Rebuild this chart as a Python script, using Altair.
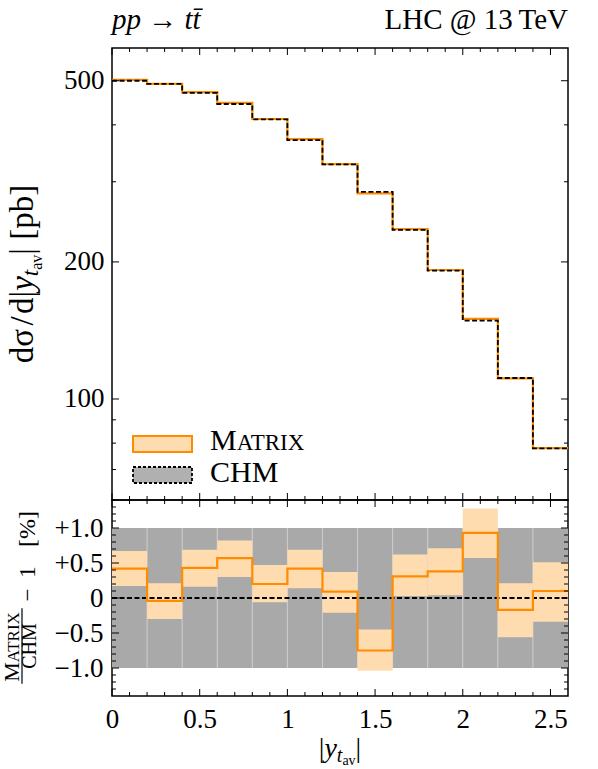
import altair as alt
import pandas as pd

# ---- data -------------------------------------------------------------
edges = [0.0, 0.2, 0.4, 0.6, 0.8, 1.0, 1.2, 1.4, 1.6, 1.8, 2.0, 2.2, 2.4, 2.6]

# dsigma/d|y_tav| in pb, one value per bin
matrix_xs = [502, 492, 472, 447, 412, 372, 328, 283, 236, 192, 150, 111, 78]
chm_xs = [499.9, 492.2, 470.0, 444.5, 411.2, 370.4, 327.7, 285.1, 235.3, 191.3, 148.6, 111.2, 77.9]

# MATRIX/CHM - 1 in percent, with MATRIX uncertainty band
ratio_pct = [0.42, -0.04, 0.43, 0.57, 0.20, 0.42, 0.09, -0.75, 0.31, 0.38, 0.93, -0.17, 0.10]
ratio_hi = [0.67, 0.21, 0.69, 0.82, 0.47, 0.69, 0.37, -0.45, 0.62, 0.71, 1.28, 0.21, 0.51]
ratio_lo = [0.17, -0.30, 0.16, 0.30, -0.06, 0.14, -0.21, -1.04, 0.03, 0.04, 0.57, -0.56, -0.34]

# CHM uncertainty band in percent
chm_hi = [1.0, 1.0, 1.0, 1.0, 1.0, 1.0, 1.0, 1.0, 1.0, 1.0, 1.0, 1.0, 1.0]
chm_lo = [-1.0, -1.0, -1.0, -1.0, -1.0, -1.0, -1.0, -1.0, -1.0, -1.0, -1.0, -1.0, -1.0]

# axis ticks
x_major = [0.0, 0.5, 1.0, 1.5, 2.0, 2.5]
x_minor = [0.1, 0.2, 0.3, 0.4, 0.6, 0.7, 0.8, 0.9, 1.1, 1.2, 1.3, 1.4,
           1.6, 1.7, 1.8, 1.9, 2.1, 2.2, 2.3, 2.4]
top_major = [100, 200, 500]
top_minor = [60, 70, 80, 90, 300, 400]
rat_major = [-1.0, -0.5, 0.0, 0.5, 1.0]
rat_minor = [-1.3, -1.2, -1.1, -0.9, -0.8, -0.7, -0.6, -0.4, -0.3, -0.2, -0.1,
             0.1, 0.2, 0.3, 0.4, 0.6, 0.7, 0.8, 0.9, 1.1, 1.2, 1.3]

# ---- style ------------------------------------------------------------
FONT = "Liberation Serif"
ORANGE = "#ff8c00"
PEACH = "#ffdcb0"
GREY = "#a9a9a9"
W, H_TOP, H_RAT = 456, 452, 196
MAJ, MIN = 7, 4
DASH = [5, 2.5]

steps = pd.DataFrame({
    "x": edges,
    "matrix": matrix_xs + [matrix_xs[-1]],
    "chm": chm_xs + [chm_xs[-1]],
    "ratio": ratio_pct + [ratio_pct[-1]],
})
bins = pd.DataFrame({
    "lo": edges[:-1], "hi": edges[1:],
    "rlo": ratio_lo, "rhi": ratio_hi,
    "clo": chm_lo, "chi": chm_hi,
})
ONE = pd.DataFrame({"k": [0]})

x_scale = alt.Scale(domain=[0, 2.6], nice=False, zero=False)
y_top_scale = alt.Scale(type="log", domain=[60, 590], nice=False)
y_rat_scale = alt.Scale(domain=[-1.4, 1.4], nice=False, zero=False)

lab = dict(ticks=False, tickSize=0, domain=False, grid=False, labelFont=FONT,
           labelFontSize=27, labelColor="black", title=None, labelOverlap=False)
y_top_axis = alt.Axis(values=top_major, format="d", labelPadding=8, **lab)
y_rat_axis = alt.Axis(
    values=rat_major, labelPadding=9,
    labelExpr="datum.value > 0.01 ? '+' + format(datum.value, '.1f') : "
              "(datum.value < -0.01 ? '\u2212' + format(-datum.value, '.1f') : '0')",
    **lab)
x_rat_axis = alt.Axis(values=x_major, format="~g", labelPadding=10, labelFlush=False, **lab)

# character advance widths (em) used to lay out multi-part labels
WIDTHS = {
    "normal": {" ": 0.25, "d": 0.5, "\u03c3": 0.55, "/": 0.278, "|": 0.2, "[": 0.333,
               "]": 0.333, "p": 0.5, "b": 0.5, "a": 0.444, "v": 0.5, "M": 0.889,
               "A": 0.722, "T": 0.611, "R": 0.667, "I": 0.333, "X": 0.722,
               "C": 0.667, "H": 0.722, "%": 0.833, "1": 0.5, "\u2212": 0.564},
    "italic": {"y": 0.444, "t": 0.278},
}


def run_width(txt, size, style):
    return sum(WIDTHS[style].get(c, 0.5) for c in txt) * size


def text_run(pieces, x0, y0, anchor="center", vertical=False):
    total = sum(run_width(t, s, st) for t, s, st, _ in pieces)
    pos = -total / 2 if anchor == "center" else 0.0
    out = []
    for t, s, st, shift in pieces:
        if vertical:
            px, py, ang = x0 + shift, y0 - pos, 270
        else:
            px, py, ang = x0 + pos, y0 + shift, 0
        if t.strip():
            out.append(alt.Chart(ONE).mark_text(
                text=t, align="left", baseline="alphabetic", font=FONT, fontSize=s,
                fontStyle=st, angle=ang, color="black").encode(
                x=alt.value(px), y=alt.value(py)))
        pos += run_width(t, s, st)
    return out


def label(txt, x, y, size, style="normal", align="left", angle=0):
    return alt.Chart(ONE).mark_text(
        text=txt, align=align, baseline="alphabetic", font=FONT, fontSize=size,
        fontStyle=style, angle=angle, color="black").encode(x=alt.value(x), y=alt.value(y))


def x_ticks(vals, length, height, axis):
    df = pd.DataFrame({"v": vals})
    base = alt.Chart(df).mark_rule(color="black", strokeWidth=1)
    xe = alt.X("v:Q", scale=x_scale, axis=axis)
    return [base.encode(x=xe, y=alt.value(0), y2=alt.value(length)),
            base.encode(x=xe, y=alt.value(height), y2=alt.value(height - length))]


def y_ticks(vals, length, scale, axis):
    df = pd.DataFrame({"v": vals})
    base = alt.Chart(df).mark_rule(color="black", strokeWidth=1)
    ye = alt.Y("v:Q", scale=scale, axis=axis)
    return [base.encode(y=ye, x=alt.value(0), x2=alt.value(length)),
            base.encode(y=ye, x=alt.value(W), x2=alt.value(W - length))]


# ---- upper panel: distribution ----------------------------------------
xe_top = alt.X("x:Q", scale=x_scale, axis=None)
line_matrix = alt.Chart(steps).mark_line(
    interpolate="step-after", color=ORANGE, strokeWidth=2.2).encode(
    x=xe_top, y=alt.Y("matrix:Q", scale=y_top_scale, axis=y_top_axis))
line_chm = alt.Chart(steps).mark_line(
    interpolate="step-after", color="black", strokeWidth=1.8, strokeDash=DASH).encode(
    x=xe_top, y=alt.Y("chm:Q", scale=y_top_scale, axis=y_top_axis))

legend_layers = [
    alt.Chart(ONE).mark_rect(fill=PEACH, stroke=ORANGE, strokeWidth=2).encode(
        x=alt.value(21), x2=alt.value(80), y=alt.value(388), y2=alt.value(404)),
    alt.Chart(ONE).mark_rect(fill="#b0b0b0", stroke="black", strokeWidth=1.8,
                             strokeDash=[3, 2]).encode(
        x=alt.value(21), x2=alt.value(80), y=alt.value(419), y2=alt.value(435)),
    label("M", 98, 402, 30),
    label("ATRIX", 98 + 0.889 * 30, 402, 23),
    label("CHM", 98, 434, 30),
]

top_titles = [
    label("pp \u2192 tt\u0304", 0, -19, 29, style="italic"),
    label("LHC @ 13\u2009TeV", W, -19, 29, align="right"),
]
top_ytitle = text_run(
    [("d\u03c3", 33, "normal", 0), (" ", 12, "normal", 0), ("/", 33, "normal", 0),
     (" ", 10, "normal", 0), ("d|", 33, "normal", 0), ("y", 33, "italic", 0),
     ("t", 23, "italic", 5), ("av", 16, "normal", 9), ("|", 33, "normal", 0),
     (" ", 33, "normal", 0), ("[pb]", 33, "normal", 0)],
    -79, H_TOP / 2, vertical=True)

top = alt.layer(
    line_matrix, line_chm,
    *x_ticks(x_major, MAJ, H_TOP, None), *x_ticks(x_minor, MIN, H_TOP, None),
    *y_ticks(top_major, MAJ, y_top_scale, y_top_axis),
    *y_ticks(top_minor, MIN, y_top_scale, y_top_axis),
    *legend_layers, *top_titles, *top_ytitle,
).properties(width=W, height=H_TOP)

# ---- lower panel: ratio -----------------------------------------------
xe_rat = alt.X("lo:Q", scale=x_scale, axis=x_rat_axis)
grey_band = alt.Chart(bins).mark_rect(fill=GREY).encode(
    x=xe_rat, x2="hi:Q",
    y=alt.Y("clo:Q", scale=y_rat_scale, axis=y_rat_axis), y2="chi:Q")
separators = alt.Chart(bins.iloc[1:]).mark_rule(color="#cccccc", strokeWidth=1).encode(
    x=xe_rat, y=alt.Y("clo:Q", scale=y_rat_scale, axis=y_rat_axis), y2="chi:Q")
peach_band = alt.Chart(bins).mark_rect(fill=PEACH).encode(
    x=xe_rat, x2="hi:Q",
    y=alt.Y("rlo:Q", scale=y_rat_scale, axis=y_rat_axis), y2="rhi:Q")
zero_line = alt.Chart(pd.DataFrame({"v": [0.0]})).mark_rule(
    color="black", strokeWidth=1.8, strokeDash=DASH).encode(
    y=alt.Y("v:Q", scale=y_rat_scale, axis=y_rat_axis), x=alt.value(0), x2=alt.value(W))
ratio_line = alt.Chart(steps).mark_line(
    interpolate="step-after", color=ORANGE, strokeWidth=2.2).encode(
    x=alt.X("x:Q", scale=x_scale, axis=x_rat_axis),
    y=alt.Y("ratio:Q", scale=y_rat_scale, axis=y_rat_axis))

NUM_C = 146
num_len = 0.889 * 22 + run_width("ATRIX", 17, "normal")
rat_ytitle = [
    label("M", -93, NUM_C + num_len / 2, 22, angle=270),
    label("ATRIX", -93, NUM_C + num_len / 2 - 0.889 * 22, 17, angle=270),
    alt.Chart(ONE).mark_rule(color="black", strokeWidth=1.2).encode(
        x=alt.value(-90), x2=alt.value(-90),
        y=alt.value(NUM_C - num_len / 2 - 2), y2=alt.value(NUM_C + num_len / 2 + 2)),
    label("CHM", -76, NUM_C, 20, align="center", angle=270),
    label("\u2212", -77, 95, 23, align="center", angle=270),
    label("1", -77, 72, 23, align="center", angle=270),
    label("[%]", -77, 29, 24, align="center", angle=270),
]
rat_xtitle = text_run(
    [("|", 28, "normal", 0), ("y", 28, "italic", 0), ("t", 20, "italic", 5),
     ("av", 14, "normal", 8), ("|", 28, "normal", 0)],
    W / 2, 257)

bottom = alt.layer(
    grey_band, separators, peach_band, zero_line, ratio_line,
    *x_ticks(x_major, MAJ, H_RAT, x_rat_axis), *x_ticks(x_minor, MIN, H_RAT, x_rat_axis),
    *y_ticks(rat_major, MAJ, y_rat_scale, y_rat_axis),
    *y_ticks(rat_minor, MIN, y_rat_scale, y_rat_axis),
    *rat_ytitle, *rat_xtitle,
).properties(width=W, height=H_RAT)

chart = alt.vconcat(top, bottom, spacing=0, bounds="flush").configure_view(
    stroke="black", strokeWidth=1.5).properties(
    padding={"left": 0, "top": 5, "right": 5, "bottom": 4})

chart.save("out.html", embed_options={"renderer": "svg", "actions": False})
